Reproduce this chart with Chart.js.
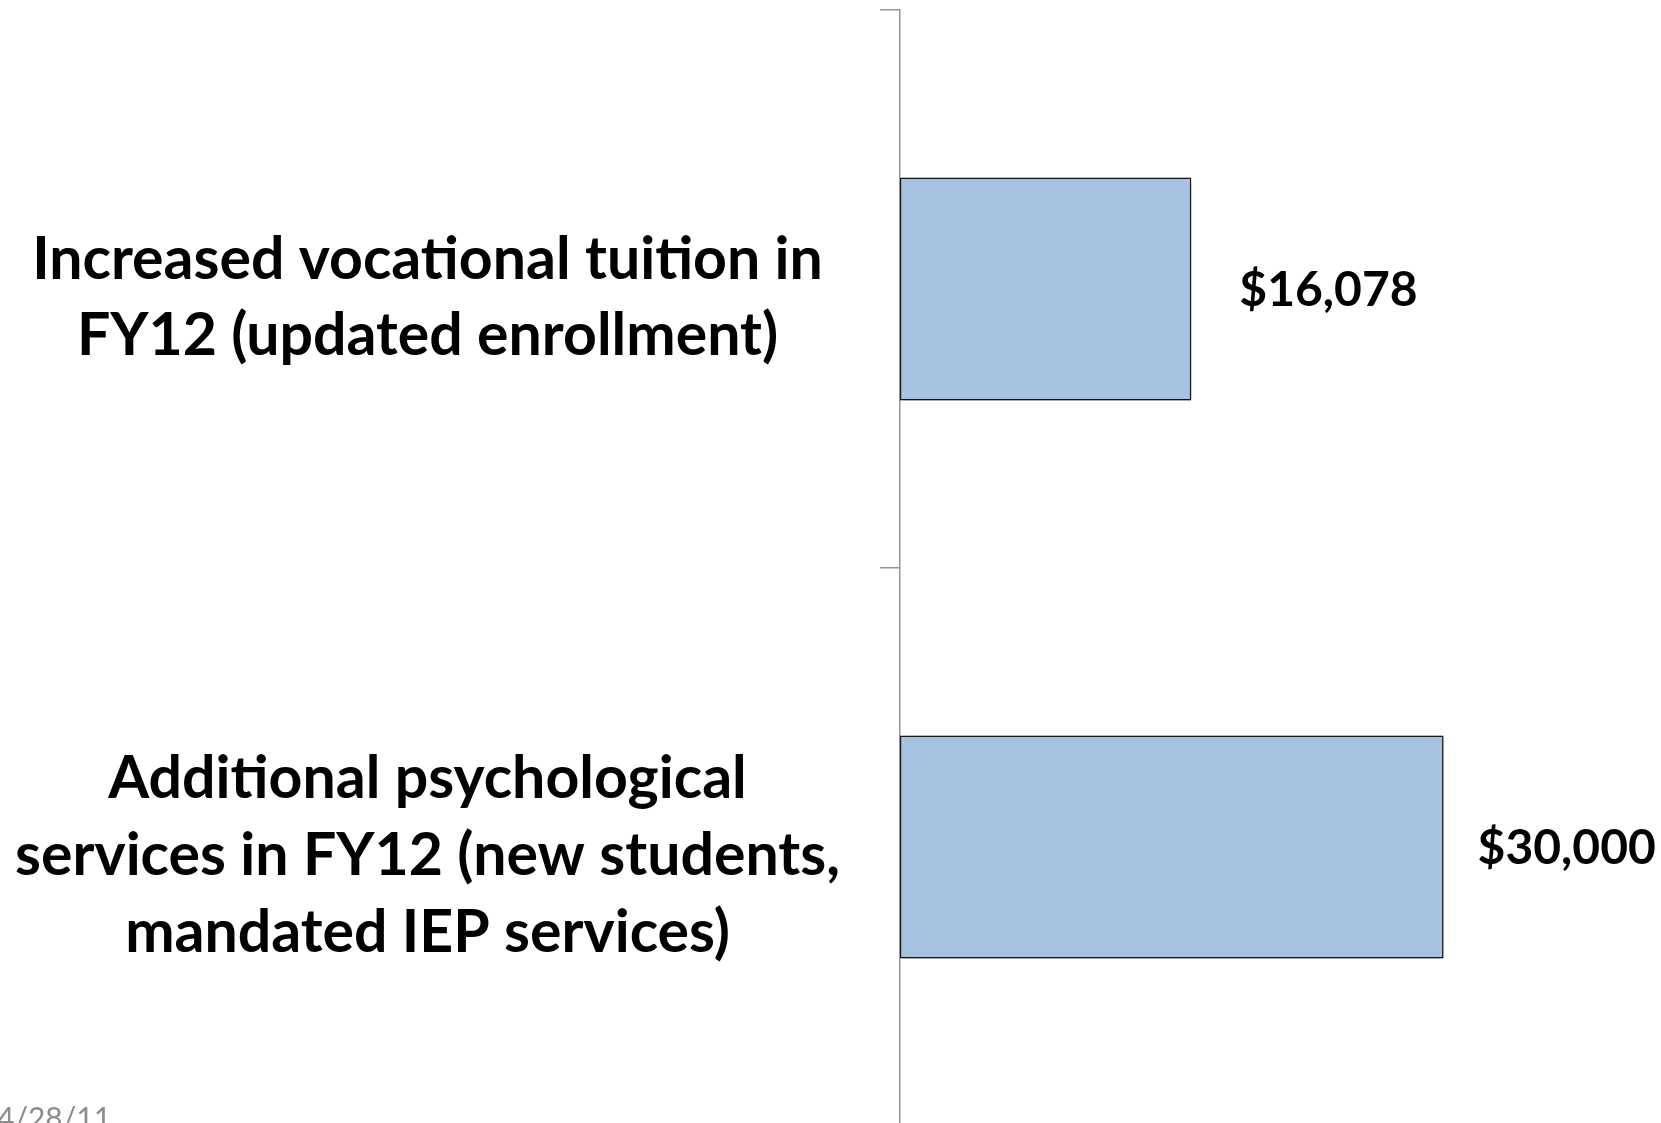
<!DOCTYPE html>
<html>
<head>
<meta charset="utf-8">
<script src="https://cdn.jsdelivr.net/npm/chart.js@4.4.0/dist/chart.umd.min.js"></script>
<style>
  body { margin: 0; background: #fff; overflow: hidden; }
  #wrap { position: relative; width: 1661px; height: 1123px; overflow: hidden; }
  #date {
    position: absolute; left: -3px; top: 1099px;
    font: 30px Lato, sans-serif; color: #8c8c8c;
  }
</style>
</head>
<body>
<div id="wrap">
  <canvas id="costChart" width="1661" height="1126"></canvas>
  <div id="date">4/28/11</div>
</div>
<script>
const categories = [
  ['Increased vocational tuition in', 'FY12 (updated enrollment)'],
  ['Additional psychological', 'services in FY12 (new students,', 'mandated IEP services)'],
]
const amounts = [16078, 30000]
const amountLabels = ['$16,078', '$30,000']

// bar shadow like the slide
const barShadow = {
  id: 'barShadow',
  beforeDatasetsDraw(chart) {
    const { ctx } = chart
    ctx.save()
    ctx.shadowColor = 'rgba(0, 0, 0, 0.4)'
    ctx.shadowBlur = 5
    ctx.shadowOffsetX = 2
    ctx.shadowOffsetY = 2
  },
  afterDatasetsDraw(chart) {
    chart.ctx.restore()
  },
}

// value labels right of each bar
const valueLabels = {
  id: 'valueLabels',
  afterDatasetsDraw(chart) {
    const { ctx } = chart
    ctx.save()
    ctx.font = 'bold 48px Lato'
    ctx.fillStyle = '#000'
    ctx.textAlign = 'left'
    ctx.textBaseline = 'middle'
    chart.getDatasetMeta(0).data.forEach((bar, index) => {
      const gap = index === 0 ? 48 : 34
      ctx.fillText(amountLabels[index], bar.x + gap, bar.y + 2)
    })
    ctx.restore()
  },
}

new Chart(document.getElementById('costChart').getContext('2d'), {
  type: 'bar',
  data: {
    labels: categories,
    datasets: [
      {
        data: amounts,
        backgroundColor: '#a7c1e0',
        borderColor: '#1a1a1a',
        borderWidth: 1.5,
        borderSkipped: false,
        barPercentage: 0.8,
        categoryPercentage: 0.5,
      },
    ],
  },
  options: {
    indexAxis: 'y',
    responsive: false,
    animation: false,
    devicePixelRatio: 1,
    layout: { padding: { top: 10, left: 0, right: 0, bottom: 0 } },
    plugins: {
      legend: { display: false },
      tooltip: { enabled: false },
    },
    scales: {
      x: {
        display: false,
        min: 0,
        max: 42000,
      },
      y: {
        afterFit(scale) {
          scale.width = 900
          scale.paddingTop = 0
          scale.paddingBottom = 0
        },
        border: { display: true, color: '#969696', width: 1.5 },
        grid: {
          drawOnChartArea: false,
          drawTicks: true,
          tickLength: 20,
          color: '#969696',
          lineWidth: 1.5,
        },
        ticks: {
          crossAlign: 'center',
          padding: 40,
          labelOffset: 9,
          autoSkip: false,
          color: '#000',
          font: { family: 'Lato', weight: 'bold', size: 59, lineHeight: 1.3 },
        },
      },
    },
  },
  plugins: [barShadow, valueLabels],
})
</script>
</body>
</html>
